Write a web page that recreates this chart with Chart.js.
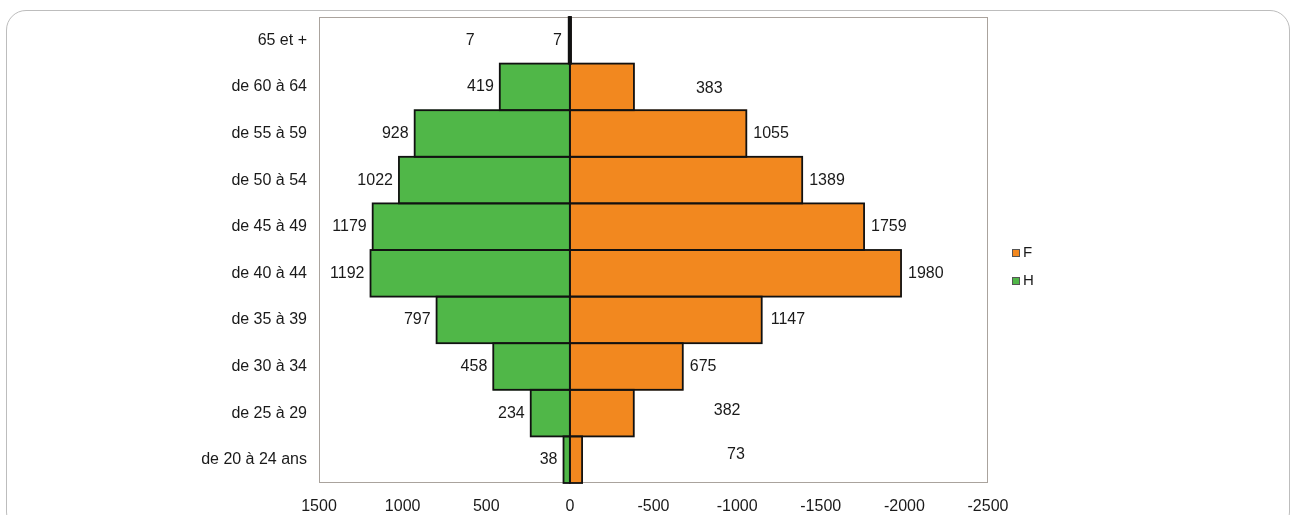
<!DOCTYPE html>
<html>
<head>
<meta charset="utf-8">
<script src="https://cdn.jsdelivr.net/npm/chart.js@4.4.1/dist/chart.umd.min.js"></script>
<style>
  html, body { margin: 0; padding: 0; background: #ffffff; }
  #wrap { position: relative; width: 1296px; height: 515px; overflow: hidden; }
  #card { position: absolute; left: 6px; top: 10px; width: 1284px; height: 522px;
          border: 1px solid #bdbdbd; border-radius: 20px; box-sizing: border-box; }
  canvas { position: absolute; left: 0; top: 0; }
</style>
</head>
<body>
<div id="wrap">
  <div id="card"></div>
  <canvas id="c" width="1296" height="515"></canvas>
</div>
<script>
// ---- data (top to bottom) ----
const categories = ["65 et +", "de 60 à 64", "de 55 à 59", "de 50 à 54", "de 45 à 49",
                    "de 40 à 44", "de 35 à 39", "de 30 à 34", "de 25 à 29", "de 20 à 24 ans"];
const hommes = [7, 419, 928, 1022, 1179, 1192, 797, 458, 234, 38];
const femmes = [7, 383, 1055, 1389, 1759, 1980, 1147, 675, 382, 73];
const xTicks = [1500, 1000, 500, 0, -500, -1000, -1500, -2000, -2500];
const seriesNames = ["H", "F"];

const GREEN = "#50b748";
const ORANGE = "#f2881f";
const FONT = "'Liberation Sans', Arial, Helvetica, sans-serif";

// annotation placement tweaks for value labels (px), as in the original layout
const labelShift = {
  H: [[-88, 0], [0, 0], [0, 0], [0, 0], [0, 0], [0, 0], [0, 0], [0, 0], [0, 0], [0, 0]],
  F: [[-25, 0], [55, 2], [0, 0], [0, 0], [0, 0], [0, 0], [2, 0], [0, 0], [73, -3], [138, -5]]
};

const valueLabels = {
  id: "valueLabels",
  beforeDatasetsDraw(chart) {
    const { ctx, chartArea: a } = chart;
    ctx.save();
    ctx.strokeStyle = "#aaa39d";
    ctx.lineWidth = 1;
    ctx.strokeRect(Math.round(a.left) + 0.5, Math.round(a.top) + 0.5,
                   Math.round(a.right - a.left) - 1, Math.round(a.bottom - a.top) - 1);
    ctx.restore();
  },
  afterDatasetsDraw(chart) {
    const { ctx } = chart;
    ctx.save();
    // bar outlines (centered strokes, like the original)
    ctx.strokeStyle = "#111";
    ctx.lineWidth = 1.8;
    chart.data.datasets.forEach((ds, di) => {
      const meta = chart.getDatasetMeta(di);
      meta.data.forEach((el) => {
        const p = el.getProps(["x", "y", "base", "height"], true);
        const l = Math.min(p.x, p.base), r = Math.max(p.x, p.base);
        ctx.strokeRect(l, p.y - p.height / 2, r - l, p.height);
      });
    });
    ctx.font = "16px " + FONT;
    ctx.fillStyle = "#1a1a1a";
    ctx.textBaseline = "middle";
    chart.data.datasets.forEach((ds, di) => {
      const meta = chart.getDatasetMeta(di);
      const key = ds.label;
      const vals = key === "H" ? hommes : femmes;
      meta.data.forEach((el, i) => {
        const sh = labelShift[key][i];
        if (key === "H") {
          ctx.textAlign = "right";
          ctx.fillText(String(vals[i]), el.x - 6 + sh[0], el.y + sh[1]);
        } else {
          ctx.textAlign = "left";
          ctx.fillText(String(vals[i]), el.x + 7 + sh[0], el.y + sh[1]);
        }
      });
    });
    // legend (F then H)
    const items = [chart.data.datasets[1], chart.data.datasets[0]];
    ctx.font = "15px " + FONT;
    ctx.textAlign = "left";
    items.forEach((ds, k) => {
      const y = 253 + k * 28;
      const x = 1012;
      ctx.fillStyle = ds.backgroundColor;
      ctx.fillRect(x, y - 4, 8, 8);
      ctx.strokeStyle = "#555";
      ctx.lineWidth = 1;
      ctx.strokeRect(x + 0.5, y - 3.5, 7, 7);
      ctx.fillStyle = "#1a1a1a";
      ctx.fillText(ds.label, x + 11, y);
    });
    ctx.restore();
  }
};

new Chart(document.getElementById("c"), {
  type: "bar",
  data: {
    labels: categories,
    datasets: [
      { label: seriesNames[0], data: hommes.slice(), backgroundColor: GREEN, borderWidth: 0 },
      { label: seriesNames[1], data: femmes.map(v => -v), backgroundColor: ORANGE, borderWidth: 0 }
    ]
  },
  options: {
    indexAxis: "y",
    responsive: false,
    animation: false,
    devicePixelRatio: 1,
    barPercentage: 1,
    categoryPercentage: 1,
    layout: { padding: { left: 0, right: 308, top: 17, bottom: 0 } },
    plugins: { legend: { display: false }, tooltip: { enabled: false } },
    scales: {
      x: {
        type: "linear",
        stacked: true,
        reverse: true,
        min: -2500,
        max: 1500,
        border: { display: false },
        grid: { display: false, drawTicks: false },
        afterBuildTicks(scale) { scale.ticks = xTicks.map(v => ({ value: v })); },
        afterFit(scale) { scale.height = 32; scale.paddingLeft = 0; scale.paddingRight = 0; },
        ticks: {
          padding: 14,
          color: "#1a1a1a",
          font: { family: FONT, size: 16 },
          maxRotation: 0,
          autoSkip: false,
          callback: (v) => String(v)
        }
      },
      y: {
        stacked: true,
        border: { display: false },
        grid: { display: false, drawTicks: false },
        afterFit(scale) { scale.width = 319; scale.paddingTop = 0; scale.paddingBottom = 0; },
        ticks: {
          padding: 12,
          color: "#1a1a1a",
          font: { family: FONT, size: 16 },
          autoSkip: false
        }
      }
    }
  },
  plugins: [valueLabels]
});
</script>
</body>
</html>
